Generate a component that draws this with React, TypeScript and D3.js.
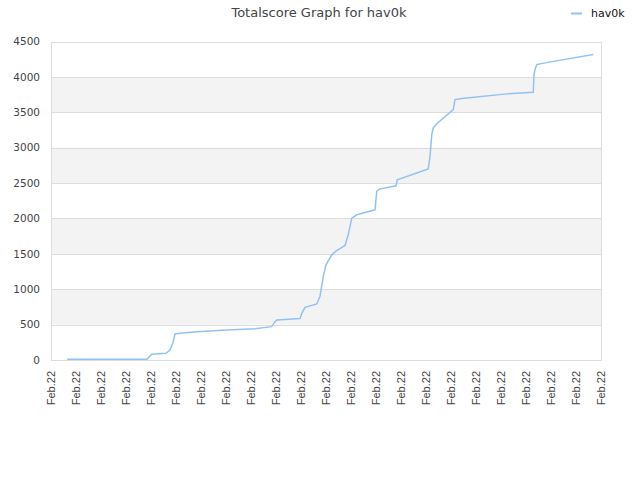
import { scaleLinear, line as d3Line } from 'd3';

// time position (in units of one x tick) and total score
const times = [
  0.65, 3.84, 4.03, 4.6, 4.76, 4.87, 4.96, 5.16, 5.83, 7.03, 8.16, 8.83, 8.96, 9.03, 9.96, 10.03,
  10.16, 10.63, 10.76, 10.89, 11.0, 11.23, 11.43, 11.76, 11.89, 12.03, 12.23, 12.96, 13.03, 13.13,
  13.8, 13.85, 15.09, 15.16, 15.23, 15.29, 15.43, 16.09, 16.16, 16.43, 18.23, 19.29, 19.32, 19.36,
  19.43, 19.76, 21.69,
];
const scores = [
  10, 10, 80, 95, 140, 235, 368, 378, 400, 425, 443, 471, 542, 566, 585, 660,
  745, 792, 900, 1179, 1344, 1486, 1547, 1618, 1769, 2005, 2052, 2122, 2382, 2415,
  2462, 2547, 2700, 2877, 3184, 3279, 3339, 3538, 3679, 3693, 3760, 3782, 4033, 4104,
  4174, 4198, 4316,
];
const xLabels = Array.from({ length: 23 }, () => 'Feb.22');
const yTicks = [0, 500, 1000, 1500, 2000, 2500, 3000, 3500, 4000, 4500];
const seriesName = 'hav0k';
const title = 'Totalscore Graph for hav0k';

const W = 640;
const H = 480;
const M = { left: 51, right: 39, top: 41.5, bottom: 120 };

const App = () => {
  const x = scaleLinear()
    .domain([0, xLabels.length - 1])
    .range([M.left, W - M.right]);
  const y = scaleLinear()
    .domain([0, 4500])
    .range([H - M.bottom, M.top]);

  const path = d3Line<number>()
    .x((_, i) => x(times[i]))
    .y((d) => y(d))(scores);

  return (
    <svg
      width={W}
      height={H}
      style={{ position: 'absolute', left: 0, top: 0, background: '#fff' }}
      fontFamily="DejaVu Sans, sans-serif"
    >
      {/* alternating bands */}
      {yTicks.slice(0, -1).map((t, i) =>
        i % 2 === 1 ? (
          <rect
            key={'b' + t}
            x={M.left}
            width={W - M.right - M.left}
            y={y(t + 500)}
            height={y(t) - y(t + 500)}
            fill="#f3f3f3"
          />
        ) : null
      )}
      {/* grid lines */}
      {yTicks.map((t) => (
        <line
          key={'g' + t}
          x1={M.left}
          x2={W - M.right}
          y1={Math.round(y(t)) + 0.5}
          y2={Math.round(y(t)) + 0.5}
          stroke="#dddddd"
        />
      ))}
      <rect
        x={M.left + 0.5}
        y={Math.round(y(4500)) + 0.5}
        width={W - M.right - M.left}
        height={Math.round(y(0)) - Math.round(y(4500))}
        fill="none"
        stroke="#dddddd"
      />
      {/* y tick labels */}
      {yTicks.map((t) => (
        <text
          key={'y' + t}
          x={M.left - 11}
          y={y(t)}
          dy="0.35em"
          textAnchor="end"
          fontSize={10.5}
          fill="#444"
        >
          {t}
        </text>
      ))}
      {/* x tick labels */}
      {xLabels.map((l, i) => (
        <text
          key={'x' + i}
          transform={`translate(${x(i)}, ${H - M.bottom + 11}) rotate(-90)`}
          dy="0.35em"
          textAnchor="end"
          fontSize={11}
          fontFamily="Liberation Sans, Arial, sans-serif"
          fill="#444"
        >
          {l}
        </text>
      ))}
      <path d={path ?? ''} fill="none" stroke="#90c2f4" strokeWidth={1.5} />
      {/* title */}
      <text x={319} y={17} textAnchor="middle" fontSize={13} fill="#444">
        {title}
      </text>
      {/* legend */}
      <line x1={571} x2={582} y1={13.5} y2={13.5} stroke="#90c2f4" strokeWidth={2} />
      <text x={591} y={17} fontSize={11} fill="#111">
        {seriesName}
      </text>
    </svg>
  );
};

export default App;
